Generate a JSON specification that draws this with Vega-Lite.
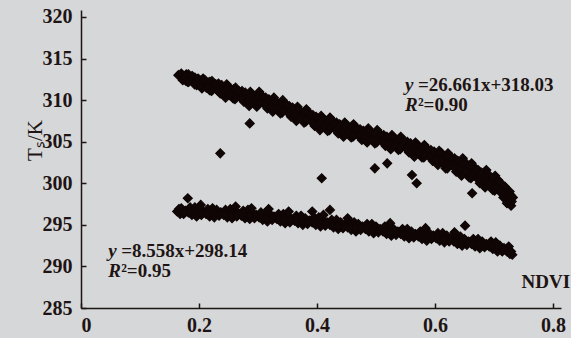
{
"$schema": "https://vega.github.io/schema/vega-lite/v6.json",
"width": 480, "height": 298,
"autosize": {"type": "none"},
"padding": {"left": 81, "top": 10, "right": 10, "bottom": 30},
"background": "#d5d7d8",
"config": {"view": {"stroke": null}, "font": "Liberation Serif"},
"datasets": {
"pts": [
{"x":0.165,"y":313.0},{"x":0.170,"y":313.2},{"x":0.174,"y":312.6},{"x":0.176,"y":312.9},{"x":0.178,"y":312.3},
{"x":0.182,"y":313.1},{"x":0.185,"y":312.6},{"x":0.181,"y":312.2},{"x":0.187,"y":312.8},
{"x":0.190,"y":312.2},{"x":0.193,"y":312.7},{"x":0.196,"y":311.8},{"x":0.199,"y":312.4},
{"x":0.201,"y":312.4},{"x":0.204,"y":311.7},{"x":0.207,"y":312.6},{"x":0.205,"y":311.4},
{"x":0.210,"y":312.4},{"x":0.214,"y":311.6},{"x":0.216,"y":312.1},{"x":0.218,"y":311.2},
{"x":0.222,"y":312.3},{"x":0.225,"y":311.6},{"x":0.221,"y":311.1},{"x":0.227,"y":311.9},
{"x":0.230,"y":311.3},{"x":0.233,"y":312.0},{"x":0.236,"y":310.8},{"x":0.239,"y":311.6},
{"x":0.241,"y":311.5},{"x":0.244,"y":310.7},{"x":0.247,"y":311.9},{"x":0.245,"y":310.3},
{"x":0.250,"y":311.6},{"x":0.254,"y":310.6},{"x":0.256,"y":311.2},{"x":0.258,"y":310.2},
{"x":0.262,"y":311.5},{"x":0.265,"y":310.7},{"x":0.261,"y":310.1},{"x":0.267,"y":311.1},
{"x":0.270,"y":310.4},{"x":0.273,"y":311.1},{"x":0.276,"y":309.8},{"x":0.279,"y":310.7},
{"x":0.281,"y":310.6},{"x":0.284,"y":309.8},{"x":0.287,"y":311.0},{"x":0.285,"y":309.3},
{"x":0.290,"y":310.7},{"x":0.294,"y":309.7},{"x":0.296,"y":310.3},{"x":0.298,"y":309.2},
{"x":0.302,"y":311.0},{"x":0.305,"y":310.1},{"x":0.301,"y":309.5},{"x":0.307,"y":310.5},
{"x":0.310,"y":309.6},{"x":0.313,"y":310.3},{"x":0.316,"y":309.0},{"x":0.319,"y":309.9},
{"x":0.321,"y":309.9},{"x":0.324,"y":309.1},{"x":0.327,"y":310.3},{"x":0.325,"y":308.6},
{"x":0.330,"y":309.9},{"x":0.334,"y":308.9},{"x":0.336,"y":309.5},{"x":0.338,"y":308.4},
{"x":0.342,"y":310.0},{"x":0.345,"y":309.1},{"x":0.341,"y":308.5},{"x":0.347,"y":309.5},
{"x":0.350,"y":308.6},{"x":0.353,"y":309.3},{"x":0.356,"y":308.0},{"x":0.359,"y":308.9},
{"x":0.361,"y":308.8},{"x":0.364,"y":308.0},{"x":0.367,"y":309.2},{"x":0.365,"y":307.5},
{"x":0.370,"y":308.8},{"x":0.374,"y":307.8},{"x":0.376,"y":308.4},{"x":0.378,"y":307.3},
{"x":0.382,"y":308.9},{"x":0.385,"y":308.0},{"x":0.381,"y":307.4},{"x":0.387,"y":308.4},
{"x":0.390,"y":307.5},{"x":0.393,"y":308.2},{"x":0.396,"y":306.9},{"x":0.399,"y":307.8},
{"x":0.401,"y":307.7},{"x":0.404,"y":306.9},{"x":0.407,"y":308.1},{"x":0.405,"y":306.4},
{"x":0.410,"y":307.8},{"x":0.414,"y":306.8},{"x":0.416,"y":307.4},{"x":0.418,"y":306.3},
{"x":0.422,"y":307.9},{"x":0.425,"y":307.0},{"x":0.421,"y":306.4},{"x":0.427,"y":307.4},
{"x":0.430,"y":306.6},{"x":0.433,"y":307.3},{"x":0.436,"y":306.0},{"x":0.439,"y":306.9},
{"x":0.441,"y":306.9},{"x":0.444,"y":306.1},{"x":0.447,"y":307.3},{"x":0.445,"y":305.6},
{"x":0.450,"y":307.0},{"x":0.454,"y":306.0},{"x":0.456,"y":306.6},{"x":0.458,"y":305.5},
{"x":0.462,"y":307.1},{"x":0.465,"y":306.2},{"x":0.461,"y":305.6},{"x":0.467,"y":306.6},
{"x":0.470,"y":305.8},{"x":0.473,"y":306.5},{"x":0.476,"y":305.2},{"x":0.479,"y":306.1},
{"x":0.481,"y":306.2},{"x":0.484,"y":305.4},{"x":0.487,"y":306.6},{"x":0.485,"y":304.9},
{"x":0.490,"y":306.3},{"x":0.494,"y":305.3},{"x":0.496,"y":305.9},{"x":0.498,"y":304.8},
{"x":0.502,"y":306.4},{"x":0.505,"y":305.5},{"x":0.501,"y":304.9},{"x":0.507,"y":305.9},
{"x":0.510,"y":305.1},{"x":0.513,"y":305.8},{"x":0.516,"y":304.5},{"x":0.519,"y":305.4},
{"x":0.521,"y":305.4},{"x":0.524,"y":304.6},{"x":0.527,"y":305.8},{"x":0.525,"y":304.1},
{"x":0.530,"y":305.5},{"x":0.534,"y":304.5},{"x":0.536,"y":305.1},{"x":0.538,"y":304.0},
{"x":0.542,"y":305.6},{"x":0.545,"y":304.7},{"x":0.541,"y":304.1},{"x":0.547,"y":305.1},
{"x":0.550,"y":304.3},{"x":0.553,"y":305.0},{"x":0.556,"y":303.7},{"x":0.559,"y":304.6},
{"x":0.561,"y":304.5},{"x":0.564,"y":303.7},{"x":0.567,"y":304.9},{"x":0.565,"y":303.2},
{"x":0.570,"y":304.6},{"x":0.574,"y":303.6},{"x":0.576,"y":304.2},{"x":0.578,"y":303.1},
{"x":0.582,"y":304.6},{"x":0.585,"y":303.7},{"x":0.581,"y":303.1},{"x":0.587,"y":304.1},
{"x":0.590,"y":303.3},{"x":0.593,"y":304.0},{"x":0.596,"y":302.7},{"x":0.599,"y":303.6},
{"x":0.601,"y":303.5},{"x":0.604,"y":302.7},{"x":0.607,"y":303.9},{"x":0.605,"y":302.2},
{"x":0.610,"y":303.7},{"x":0.614,"y":302.4},{"x":0.616,"y":303.1},{"x":0.618,"y":301.8},
{"x":0.622,"y":303.6},{"x":0.625,"y":302.6},{"x":0.621,"y":301.8},{"x":0.627,"y":303.1},
{"x":0.630,"y":302.1},{"x":0.633,"y":303.0},{"x":0.636,"y":301.4},{"x":0.639,"y":302.6},
{"x":0.641,"y":302.5},{"x":0.644,"y":301.5},{"x":0.647,"y":303.0},{"x":0.645,"y":300.9},
{"x":0.650,"y":302.6},{"x":0.654,"y":301.3},{"x":0.656,"y":302.0},{"x":0.658,"y":300.7},
{"x":0.662,"y":302.4},{"x":0.665,"y":301.4},{"x":0.661,"y":300.6},{"x":0.667,"y":301.9},
{"x":0.670,"y":300.7},{"x":0.673,"y":301.6},{"x":0.676,"y":300.0},{"x":0.679,"y":301.2},
{"x":0.681,"y":301.1},{"x":0.684,"y":300.1},{"x":0.687,"y":301.6},{"x":0.685,"y":299.5},
{"x":0.690,"y":301.1},{"x":0.694,"y":299.8},{"x":0.696,"y":300.5},{"x":0.698,"y":299.2},
{"x":0.702,"y":300.9},{"x":0.705,"y":299.9},{"x":0.701,"y":299.1},{"x":0.707,"y":300.4},
{"x":0.710,"y":299.0},{"x":0.713,"y":299.9},{"x":0.716,"y":298.3},{"x":0.719,"y":299.5},
{"x":0.721,"y":299.2},{"x":0.724,"y":298.2},{"x":0.725,"y":298.9},{"x":0.722,"y":297.6},
{"x":0.728,"y":298.6},{"x":0.730,"y":297.8},{"x":0.732,"y":298.3},{"x":0.729,"y":297.3},
{"x":0.1785,"y":313.1},{"x":0.1725,"y":312.4},{"x":0.1885,"y":312.9},{"x":0.1825,"y":312.2},
{"x":0.1985,"y":312.6},{"x":0.1925,"y":311.9},{"x":0.2085,"y":312.4},{"x":0.2025,"y":311.7},
{"x":0.2185,"y":312.2},{"x":0.2125,"y":311.5},{"x":0.2285,"y":311.9},{"x":0.2225,"y":311.2},
{"x":0.2385,"y":311.8},{"x":0.2325,"y":311.1},{"x":0.2485,"y":311.5},{"x":0.2425,"y":310.8},
{"x":0.2585,"y":311.3},{"x":0.2525,"y":310.6},{"x":0.2685,"y":311.0},{"x":0.2625,"y":310.3},
{"x":0.2785,"y":310.9},{"x":0.2725,"y":310.2},{"x":0.2885,"y":310.6},{"x":0.2825,"y":309.9},
{"x":0.2985,"y":310.4},{"x":0.2925,"y":309.7},{"x":0.3085,"y":310.4},{"x":0.3025,"y":309.7},
{"x":0.3185,"y":310.1},{"x":0.3125,"y":309.4},{"x":0.3285,"y":309.9},{"x":0.3225,"y":309.2},
{"x":0.3385,"y":309.6},{"x":0.3325,"y":308.9},{"x":0.3485,"y":309.4},{"x":0.3425,"y":308.7},
{"x":0.3585,"y":309.1},{"x":0.3525,"y":308.4},{"x":0.3685,"y":308.8},{"x":0.3625,"y":308.1},
{"x":0.3785,"y":308.5},{"x":0.3725,"y":307.8},{"x":0.3885,"y":308.3},{"x":0.3825,"y":307.6},
{"x":0.3985,"y":308.0},{"x":0.3925,"y":307.3},{"x":0.4085,"y":307.7},{"x":0.4025,"y":307.0},
{"x":0.4185,"y":307.5},{"x":0.4125,"y":306.8},{"x":0.4285,"y":307.3},{"x":0.4225,"y":306.6},
{"x":0.4385,"y":307.1},{"x":0.4325,"y":306.4},{"x":0.4485,"y":306.9},{"x":0.4425,"y":306.2},
{"x":0.4585,"y":306.7},{"x":0.4525,"y":306.0},{"x":0.4685,"y":306.5},{"x":0.4625,"y":305.8},
{"x":0.4785,"y":306.3},{"x":0.4725,"y":305.6},{"x":0.4885,"y":306.2},{"x":0.4825,"y":305.5},
{"x":0.4985,"y":306.0},{"x":0.4925,"y":305.3},{"x":0.5085,"y":305.8},{"x":0.5025,"y":305.1},
{"x":0.5185,"y":305.6},{"x":0.5125,"y":304.9},{"x":0.5285,"y":305.4},{"x":0.5225,"y":304.7},
{"x":0.5385,"y":305.2},{"x":0.5325,"y":304.5},{"x":0.5485,"y":305.0},{"x":0.5425,"y":304.3},
{"x":0.5585,"y":304.8},{"x":0.5525,"y":304.1},{"x":0.5685,"y":304.5},{"x":0.5625,"y":303.8},
{"x":0.5785,"y":304.3},{"x":0.5725,"y":303.6},{"x":0.5885,"y":304.0},{"x":0.5825,"y":303.3},
{"x":0.5985,"y":303.8},{"x":0.5925,"y":303.1},{"x":0.6085,"y":303.5},{"x":0.6025,"y":302.8},
{"x":0.6185,"y":303.2},{"x":0.6125,"y":302.5},{"x":0.6285,"y":302.9},{"x":0.6225,"y":302.2},
{"x":0.6385,"y":302.7},{"x":0.6325,"y":302.0},{"x":0.6485,"y":302.4},{"x":0.6425,"y":301.7},
{"x":0.6585,"y":302.1},{"x":0.6525,"y":301.4},{"x":0.6685,"y":301.7},{"x":0.6625,"y":301.0},
{"x":0.6785,"y":301.3},{"x":0.6725,"y":300.6},{"x":0.6885,"y":301.0},{"x":0.6825,"y":300.3},
{"x":0.6985,"y":300.6},{"x":0.6925,"y":299.9},{"x":0.7085,"y":300.2},{"x":0.7025,"y":299.5},
{"x":0.7185,"y":299.6},{"x":0.7125,"y":298.9},{"x":0.7265,"y":299.0},{"x":0.7225,"y":298.4},
{"x":0.236,"y":303.6},{"x":0.286,"y":307.2},{"x":0.408,"y":300.6},{"x":0.498,"y":301.8},{"x":0.519,"y":302.4},{"x":0.561,"y":301.0},{"x":0.569,"y":300.0},{"x":0.663,"y":298.8},
{"x":0.163,"y":296.6},{"x":0.166,"y":296.9},{"x":0.168,"y":296.3},
{"x":0.170,"y":297.0},{"x":0.174,"y":296.3},{"x":0.177,"y":296.7},
{"x":0.182,"y":296.5},{"x":0.185,"y":297.1},{"x":0.188,"y":296.2},
{"x":0.191,"y":296.7},{"x":0.196,"y":296.0},{"x":0.193,"y":297.1},
{"x":0.200,"y":296.9},{"x":0.204,"y":296.2},{"x":0.207,"y":296.6},
{"x":0.212,"y":296.3},{"x":0.215,"y":296.9},{"x":0.218,"y":296.0},
{"x":0.221,"y":296.6},{"x":0.226,"y":295.9},{"x":0.223,"y":297.0},
{"x":0.230,"y":296.8},{"x":0.234,"y":296.1},{"x":0.237,"y":296.5},
{"x":0.242,"y":296.2},{"x":0.245,"y":296.8},{"x":0.248,"y":295.9},
{"x":0.251,"y":296.5},{"x":0.256,"y":295.8},{"x":0.253,"y":296.9},
{"x":0.260,"y":296.7},{"x":0.264,"y":296.0},{"x":0.267,"y":296.4},
{"x":0.272,"y":296.1},{"x":0.275,"y":296.7},{"x":0.278,"y":295.8},
{"x":0.281,"y":296.4},{"x":0.286,"y":295.7},{"x":0.283,"y":296.8},
{"x":0.290,"y":296.5},{"x":0.294,"y":295.8},{"x":0.297,"y":296.2},
{"x":0.302,"y":295.9},{"x":0.305,"y":296.5},{"x":0.308,"y":295.6},
{"x":0.311,"y":296.1},{"x":0.316,"y":295.4},{"x":0.313,"y":296.5},
{"x":0.320,"y":296.3},{"x":0.324,"y":295.6},{"x":0.327,"y":296.0},
{"x":0.332,"y":295.7},{"x":0.335,"y":296.3},{"x":0.338,"y":295.4},
{"x":0.341,"y":295.9},{"x":0.346,"y":295.2},{"x":0.343,"y":296.3},
{"x":0.350,"y":296.0},{"x":0.354,"y":295.3},{"x":0.357,"y":295.7},
{"x":0.362,"y":295.5},{"x":0.365,"y":296.1},{"x":0.368,"y":295.2},
{"x":0.371,"y":295.7},{"x":0.376,"y":295.0},{"x":0.373,"y":296.1},
{"x":0.380,"y":295.8},{"x":0.384,"y":295.1},{"x":0.387,"y":295.5},
{"x":0.392,"y":295.3},{"x":0.395,"y":295.9},{"x":0.398,"y":295.0},
{"x":0.401,"y":295.5},{"x":0.406,"y":294.8},{"x":0.403,"y":295.9},
{"x":0.410,"y":295.6},{"x":0.414,"y":294.9},{"x":0.417,"y":295.3},
{"x":0.422,"y":295.0},{"x":0.425,"y":295.6},{"x":0.428,"y":294.7},
{"x":0.431,"y":295.2},{"x":0.436,"y":294.5},{"x":0.433,"y":295.6},
{"x":0.440,"y":295.3},{"x":0.444,"y":294.6},{"x":0.447,"y":295.0},
{"x":0.452,"y":294.7},{"x":0.455,"y":295.3},{"x":0.458,"y":294.4},
{"x":0.461,"y":294.9},{"x":0.466,"y":294.2},{"x":0.463,"y":295.3},
{"x":0.470,"y":295.1},{"x":0.474,"y":294.4},{"x":0.477,"y":294.8},
{"x":0.482,"y":294.5},{"x":0.485,"y":295.1},{"x":0.488,"y":294.2},
{"x":0.491,"y":294.7},{"x":0.496,"y":294.0},{"x":0.493,"y":295.1},
{"x":0.500,"y":294.8},{"x":0.504,"y":294.1},{"x":0.507,"y":294.5},
{"x":0.512,"y":294.2},{"x":0.515,"y":294.8},{"x":0.518,"y":293.9},
{"x":0.521,"y":294.4},{"x":0.526,"y":293.7},{"x":0.523,"y":294.8},
{"x":0.530,"y":294.5},{"x":0.534,"y":293.8},{"x":0.537,"y":294.2},
{"x":0.542,"y":293.9},{"x":0.545,"y":294.5},{"x":0.548,"y":293.6},
{"x":0.551,"y":294.1},{"x":0.556,"y":293.4},{"x":0.553,"y":294.5},
{"x":0.560,"y":294.2},{"x":0.564,"y":293.5},{"x":0.567,"y":293.9},
{"x":0.572,"y":293.6},{"x":0.575,"y":294.2},{"x":0.578,"y":293.3},
{"x":0.581,"y":293.8},{"x":0.586,"y":293.1},{"x":0.583,"y":294.2},
{"x":0.590,"y":294.0},{"x":0.594,"y":293.3},{"x":0.597,"y":293.7},
{"x":0.602,"y":293.4},{"x":0.605,"y":294.0},{"x":0.608,"y":293.1},
{"x":0.611,"y":293.6},{"x":0.616,"y":292.9},{"x":0.613,"y":294.0},
{"x":0.620,"y":293.7},{"x":0.624,"y":293.0},{"x":0.627,"y":293.4},
{"x":0.632,"y":293.0},{"x":0.635,"y":293.6},{"x":0.638,"y":292.7},
{"x":0.641,"y":293.2},{"x":0.646,"y":292.5},{"x":0.643,"y":293.6},
{"x":0.650,"y":293.3},{"x":0.654,"y":292.6},{"x":0.657,"y":293.0},
{"x":0.662,"y":292.7},{"x":0.665,"y":293.3},{"x":0.668,"y":292.4},
{"x":0.671,"y":292.9},{"x":0.676,"y":292.2},{"x":0.673,"y":293.3},
{"x":0.680,"y":293.0},{"x":0.684,"y":292.3},{"x":0.687,"y":292.7},
{"x":0.692,"y":292.4},{"x":0.695,"y":293.0},{"x":0.698,"y":292.1},
{"x":0.701,"y":292.5},{"x":0.706,"y":291.8},{"x":0.703,"y":292.9},
{"x":0.710,"y":292.5},{"x":0.714,"y":291.8},{"x":0.717,"y":292.2},
{"x":0.722,"y":291.8},{"x":0.725,"y":292.4},{"x":0.727,"y":291.5},
{"x":0.729,"y":291.8},{"x":0.731,"y":291.4},
{"x":0.1755,"y":296.5},{"x":0.1855,"y":296.5},{"x":0.1955,"y":296.4},{"x":0.2055,"y":296.4},
{"x":0.2155,"y":296.3},{"x":0.2255,"y":296.3},{"x":0.2355,"y":296.3},{"x":0.2455,"y":296.2},
{"x":0.2555,"y":296.2},{"x":0.2655,"y":296.2},{"x":0.2755,"y":296.1},{"x":0.2855,"y":296.1},
{"x":0.2955,"y":296.0},{"x":0.3055,"y":295.9},{"x":0.3155,"y":295.8},{"x":0.3255,"y":295.8},
{"x":0.3355,"y":295.7},{"x":0.3455,"y":295.6},{"x":0.3555,"y":295.5},{"x":0.3655,"y":295.5},
{"x":0.3755,"y":295.4},{"x":0.3855,"y":295.3},{"x":0.3955,"y":295.3},{"x":0.4055,"y":295.2},
{"x":0.4155,"y":295.1},{"x":0.4255,"y":295.0},{"x":0.4355,"y":294.9},{"x":0.4455,"y":294.8},
{"x":0.4555,"y":294.7},{"x":0.4655,"y":294.6},{"x":0.4755,"y":294.6},{"x":0.4855,"y":294.5},
{"x":0.4955,"y":294.4},{"x":0.5055,"y":294.3},{"x":0.5155,"y":294.2},{"x":0.5255,"y":294.1},
{"x":0.5355,"y":294.0},{"x":0.5455,"y":293.9},{"x":0.5555,"y":293.8},{"x":0.5655,"y":293.7},
{"x":0.5755,"y":293.6},{"x":0.5855,"y":293.5},{"x":0.5955,"y":293.5},{"x":0.6055,"y":293.4},
{"x":0.6155,"y":293.3},{"x":0.6255,"y":293.2},{"x":0.6355,"y":293.0},{"x":0.6455,"y":292.9},
{"x":0.6555,"y":292.8},{"x":0.6655,"y":292.7},{"x":0.6755,"y":292.6},{"x":0.6855,"y":292.5},
{"x":0.6955,"y":292.4},{"x":0.7055,"y":292.2},{"x":0.7155,"y":292.0},{"x":0.7255,"y":291.8},
{"x":0.203,"y":297.4},{"x":0.262,"y":297.2},{"x":0.289,"y":297.0},{"x":0.318,"y":296.9},{"x":0.352,"y":296.6},
{"x":0.411,"y":296.2},{"x":0.452,"y":295.8},{"x":0.524,"y":295.2},{"x":0.584,"y":294.6},{"x":0.633,"y":294.1},
{"x":0.181,"y":298.2},{"x":0.392,"y":296.6},{"x":0.422,"y":296.8},{"x":0.651,"y":294.9}
],
"ann": [
{"ax":0.549,"ay":311.1,"it":"y","rest":"=26.661x+318.03"},
{"ax":0.549,"ay":308.7,"it":"R","rest":"²=0.90"},
{"ax":0.046,"ay":291.1,"it":"y","rest":"=8.558x+298.14"},
{"ax":0.046,"ay":288.7,"it":"R","rest":"²=0.95"}
]
},
"layer": [
{
"data": {"name": "pts"},
"mark": {"type": "point", "shape": "diamond", "filled": true, "size": 80, "color": "#100606", "stroke": "#100606", "strokeWidth": 1.2, "opacity": 1},
"encoding": {
"x": {"field": "x", "type": "quantitative",
"scale": {"domain": [0, 0.8136], "nice": false, "zero": false},
"axis": {"values": [0, 0.2, 0.4, 0.6, 0.8], "format": "~g", "grid": false,
"domainColor": "#1e1414", "domainWidth": 1.5, "tickColor": "#1e1414", "tickWidth": 1.5, "tickSize": -5,
"labelFont": "Liberation Serif", "labelFontWeight": "bold", "labelFontSize": 20, "labelColor": "#1e1414", "labelPadding": 12,
"title": "NDVI", "titleFont": "Liberation Serif", "titleFontWeight": "bold", "titleFontSize": 19, "titleColor": "#1e1414",
"titleX": 440, "titleY": -21, "titleAlign": "left", "titleBaseline": "alphabetic", "titleAnchor": null}},
"y": {"field": "y", "type": "quantitative",
"scale": {"domain": [285, 320.84], "nice": false, "zero": false},
"axis": {"values": [285, 290, 295, 300, 305, 310, 315, 320], "grid": false,
"domainColor": "#1e1414", "domainWidth": 1.5, "tickColor": "#1e1414", "tickWidth": 1.5, "tickSize": -5,
"labelFont": "Liberation Serif", "labelFontWeight": "bold", "labelFontSize": 20, "labelColor": "#1e1414", "labelPadding": 14,
"title": "Tₛ/K", "titleFont": "Liberation Serif", "titleFontWeight": "normal", "titleFontSize": 21, "titleColor": "#1e1414",
"titleX": -46, "titleY": 130, "titleAlign": "center", "titleBaseline": "middle", "titleAngle": -90}}
}
},
{
"data": {"name": "ann"},
"mark": {"type": "text", "align": "left", "baseline": "alphabetic", "font": "Liberation Serif", "fontSize": 19, "fontWeight": "bold", "fontStyle": "italic", "color": "#1e1414"},
"encoding": {
"x": {"field": "ax", "type": "quantitative"},
"y": {"field": "ay", "type": "quantitative"},
"text": {"field": "it"}
}
},
{
"data": {"name": "ann"},
"mark": {"type": "text", "align": "left", "baseline": "alphabetic", "dx": 13, "font": "Liberation Serif", "fontSize": 19, "fontWeight": "bold", "color": "#1e1414"},
"encoding": {
"x": {"field": "ax", "type": "quantitative"},
"y": {"field": "ay", "type": "quantitative"},
"text": {"field": "rest"}
}
}
]
}
